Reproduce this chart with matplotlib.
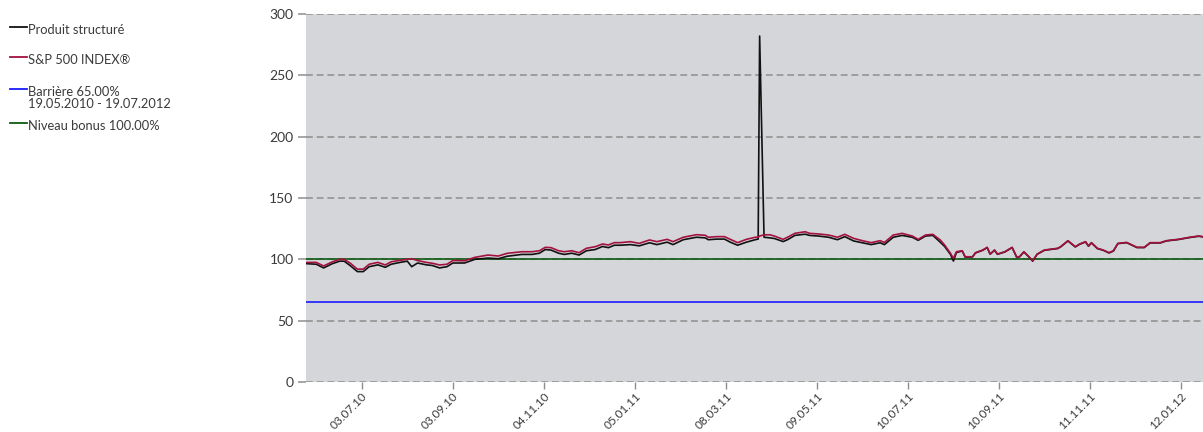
import numpy as np
import pandas as pd
import matplotlib
matplotlib.use('Agg')
from matplotlib import pyplot as plt
from matplotlib.lines import Line2D

# dates of the readings
dates = ['2010-05-26', '2010-06-02', '2010-06-07', '2010-06-13', '2010-06-18', '2010-06-21',
         '2010-06-25', '2010-06-30', '2010-07-04', '2010-07-08', '2010-07-14', '2010-07-19',
         '2010-07-23', '2010-07-29', '2010-08-03', '2010-08-06', '2010-08-10', '2010-08-16',
         '2010-08-20', '2010-08-25', '2010-08-30', '2010-09-03', '2010-09-11', '2010-09-18',
         '2010-09-27', '2010-10-04', '2010-10-10', '2010-10-20', '2010-10-27', '2010-11-01',
         '2010-11-05', '2010-11-09', '2010-11-14', '2010-11-18', '2010-11-23', '2010-11-28',
         '2010-12-03', '2010-12-09', '2010-12-14', '2010-12-18', '2010-12-22', '2010-12-26',
         '2011-01-02', '2011-01-08', '2011-01-15', '2011-01-20', '2011-01-27', '2011-01-31',
         '2011-02-07', '2011-02-16', '2011-02-22', '2011-02-24', '2011-03-02', '2011-03-07',
         '2011-03-11', '2011-03-16', '2011-03-22', '2011-03-28', '2011-03-30', '2011-03-31',
         '2011-04-03', '2011-04-07', '2011-04-10', '2011-04-16', '2011-04-19', '2011-04-24',
         '2011-05-01', '2011-05-04', '2011-05-10', '2011-05-17', '2011-05-23', '2011-05-28',
         '2011-06-03', '2011-06-09', '2011-06-15', '2011-06-21', '2011-06-24', '2011-06-30',
         '2011-07-06', '2011-07-13', '2011-07-17', '2011-07-22', '2011-07-27', '2011-08-01',
         '2011-08-04', '2011-08-08', '2011-08-10', '2011-08-12', '2011-08-16', '2011-08-18',
         '2011-08-23', '2011-08-25', '2011-08-30', '2011-09-02', '2011-09-04', '2011-09-07',
         '2011-09-09', '2011-09-14', '2011-09-19', '2011-09-22', '2011-09-24', '2011-09-27',
         '2011-09-30', '2011-10-03', '2011-10-06', '2011-10-11', '2011-10-20', '2011-10-22',
         '2011-10-27', '2011-11-01', '2011-11-04', '2011-11-08', '2011-11-10', '2011-11-12',
         '2011-11-16', '2011-11-20', '2011-11-24', '2011-11-27', '2011-11-30', '2011-12-06',
         '2011-12-13', '2011-12-18', '2011-12-22', '2011-12-29', '2012-01-02', '2012-01-10',
         '2012-01-18', '2012-01-24', '2012-01-27']

produit = [96.5, 96.0, 93.0, 96.5, 98.5, 98.5,
           95.0, 90.0, 90.0, 94.0, 95.5, 93.5,
           96.0, 97.5, 98.5, 94.0, 97.0, 95.5,
           95.0, 93.0, 94.0, 97.0, 97.0, 100.0,
           101.0, 100.5, 102.5, 104.0, 104.0, 105.0,
           108.0, 107.5, 105.0, 104.0, 105.0, 103.5,
           107.0, 108.0, 110.5, 109.5, 111.5, 111.5,
           112.0, 111.0, 113.5, 112.0, 114.0, 112.0,
           116.0, 118.0, 117.5, 116.0, 116.5, 116.5,
           114.0, 111.5, 114.0, 116.0, 116.5, 282.0,
           118.0, 117.5, 117.0, 114.5, 116.0, 119.5,
           120.5, 119.5, 119.0, 118.0, 116.0, 118.5,
           115.0, 113.5, 112.0, 113.5, 112.0, 118.0,
           119.5, 118.0, 115.5, 119.0, 119.5, 114.0,
           110.5, 104.0, 98.6, 105.5, 106.8, 101.8,
           102.0, 105.2, 107.4, 109.6, 104.2, 107.4,
           104.1, 106.0, 109.6, 101.9, 102.0, 106.0,
           102.5, 98.5, 104.1, 107.4, 108.8, 110.1,
           115.0, 110.1, 112.3, 114.2, 110.7, 113.4,
           108.8, 107.4, 105.2, 106.8, 112.8, 113.6,
           109.6, 109.6, 113.4, 113.4, 115.0, 116.1,
           117.8, 118.8, 118.3]

sp500 = [97.5, 97.5, 94.6, 98.0, 100.0, 100.0,
         97.0, 92.0, 92.0, 96.0, 97.5, 95.4,
         98.0, 99.2, 100.0, 100.5, 99.0, 97.5,
         96.8, 95.4, 96.0, 99.0, 98.8, 101.6,
         103.5, 102.7, 104.9, 106.2, 106.2, 107.0,
         109.8, 109.5, 107.0, 106.2, 107.0, 105.4,
         109.0, 110.3, 112.5, 111.7, 113.6, 113.6,
         114.4, 113.0, 115.8, 114.4, 116.3, 114.4,
         118.0, 120.1, 119.6, 118.0, 118.5, 118.5,
         116.3, 113.6, 116.3, 118.0, 118.0, 119.0,
         120.0, 120.0, 119.0, 116.3, 118.0, 121.2,
         122.5, 121.2, 120.7, 119.8, 118.0, 120.4,
         117.1, 115.2, 113.6, 115.2, 113.8, 119.8,
         121.2, 119.0, 116.3, 119.8, 120.4, 115.8,
         111.7, 104.9, 100.8, 106.2, 107.0, 102.1,
         102.1, 105.4, 107.6, 109.8, 104.3, 107.6,
         104.3, 106.2, 109.8, 102.1, 102.1, 106.2,
         102.7, 98.8, 104.3, 107.6, 109.0, 110.3,
         115.2, 110.3, 112.5, 114.4, 110.9, 113.6,
         109.0, 107.6, 105.4, 107.0, 113.0, 113.8,
         109.8, 109.8, 113.6, 113.6, 115.2, 116.3,
         118.0, 119.0, 118.5]

barriere = 65.0
bonus = 100.0

tick_dates = ['2010-07-03', '2010-09-03', '2010-11-04', '2011-01-05', '2011-03-08',
              '2011-05-09', '2011-07-10', '2011-09-10', '2011-11-11', '2012-01-12']
tick_labels = ['03.07.10', '03.09.10', '04.11.10', '05.01.11', '08.03.11',
               '09.05.11', '10.07.11', '10.09.11', '11.11.11', '12.01.12']
y_ticks = [0, 50, 100, 150, 200, 250, 300]

legend_labels = [['Produit structuré'], ['S&P 500 INDEX®'],
                 ['Barrière 65.00%', '19.05.2010 - 19.07.2012'], ['Niveau bonus 100.00%']]

c_black = '#111111'
c_red = '#a3123f'
c_blue = '#1a1aff'
c_green = '#0d5a12'
txt_col = '#3a3a3a'

plt.rcParams['font.family'] = ['Lato', 'DejaVu Sans']

x = pd.to_datetime(dates)
x_start = pd.Timestamp('2010-05-26')
x_end = pd.Timestamp('2012-01-27')

fig = plt.figure(figsize=(12.03, 4.32), dpi=100)
ax = fig.add_axes([306 / 1203, 1 - 382 / 432, 1 - 306 / 1203, 368 / 432])
ax.set_facecolor('#d5d6d9')

ax.axhline(bonus, color=c_green, lw=1.2, zorder=2)
ax.axhline(barriere, color=c_blue, lw=1.2, zorder=2)
ax.plot(x, produit, color=c_black, lw=1.2, zorder=3)
ax.plot(x, sp500, color=c_red, lw=1.2, zorder=4)

ax.set_xlim(x_start, x_end)
ax.set_ylim(0, 300)
ax.set_yticks(y_ticks)
ax.set_yticklabels([str(v) for v in y_ticks], fontsize=10, color=txt_col)
ax.set_xticks(pd.to_datetime(tick_dates))
ax.set_xticklabels(tick_labels, rotation=45, ha='right', va='top',
                   rotation_mode='anchor', fontsize=8.5, color=txt_col)

for s in ax.spines.values():
    s.set_visible(False)
ax.yaxis.grid(True, color='#8e8e8e', linestyle=(0, (4.5, 2.5)), lw=1.1)
ax.set_axisbelow(True)
ax.tick_params(axis='y', length=6, width=1.1, color='#8e8e8e', pad=3)
ax.tick_params(axis='x', length=5, width=1.0, color='#8e8e8e', pad=1)

# legend on the left, drawn by hand
leg_colors = [c_black, c_red, c_blue, c_green]
leg_y = [27, 57, 89, 123]
for lines, col, yy in zip(legend_labels, leg_colors, leg_y):
    fy = 1 - yy / 432
    fig.add_artist(Line2D([10 / 1203, 27 / 1203], [fy, fy], color=col, lw=1.3,
                          transform=fig.transFigure))
    for k, lab in enumerate(lines):
        fig.text(28 / 1203, 1 - (yy + 2.5 + 12.5 * k) / 432, lab, fontsize=9.3,
                 color=txt_col, va='center', transform=fig.transFigure)

plt.savefig('out.png', dpi=100)
